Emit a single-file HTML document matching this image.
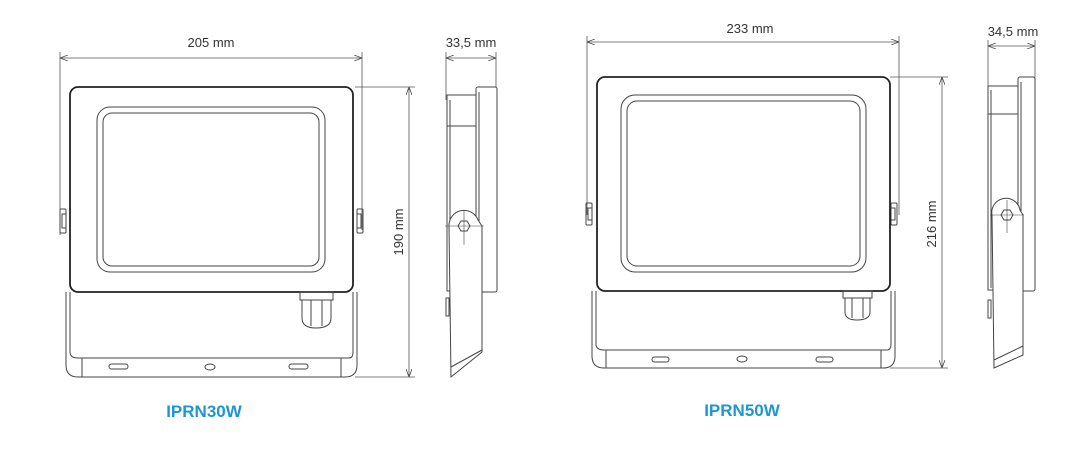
<!DOCTYPE html>
<html><head><meta charset="utf-8"><style>
html,body{margin:0;padding:0;background:#fff;}
svg{display:block}
text{font-family:"Liberation Sans",sans-serif;fill:#333}
</style></head><body>
<svg width="1070" height="453" viewBox="0 0 1070 453" xmlns="http://www.w3.org/2000/svg">
<defs>
<marker id="a" markerWidth="8" markerHeight="6" refX="8" refY="3" orient="auto-start-reverse" markerUnits="userSpaceOnUse"><path d="M0,0 L8,3 L0,6" fill="none" stroke="#444" stroke-width="0.8"/></marker>
</defs>
<g fill="none" stroke="#555" stroke-width="0.8">
<!-- LEFT dims -->
<line x1="60" y1="52" x2="60" y2="235"/>
<line x1="362" y1="52" x2="362" y2="230"/>
<line x1="60" y1="58" x2="362" y2="58" marker-start="url(#a)" marker-end="url(#a)"/>
<line x1="355" y1="87" x2="415" y2="87"/>
<line x1="355" y1="377" x2="415" y2="377"/>
<line x1="409" y1="87" x2="409" y2="377" marker-start="url(#a)" marker-end="url(#a)"/>
<line x1="446" y1="52" x2="446" y2="100"/>
<line x1="496" y1="52" x2="496" y2="90"/>
<line x1="446" y1="58" x2="496" y2="58" marker-start="url(#a)" marker-end="url(#a)"/>
<!-- RIGHT dims -->
<line x1="587" y1="36" x2="587" y2="215"/>
<line x1="899" y1="36" x2="899" y2="215"/>
<line x1="587" y1="42" x2="899" y2="42" marker-start="url(#a)" marker-end="url(#a)"/>
<line x1="890" y1="77" x2="948" y2="77"/>
<line x1="890" y1="368" x2="948" y2="368"/>
<line x1="942" y1="77" x2="942" y2="368" marker-start="url(#a)" marker-end="url(#a)"/>
<line x1="988" y1="40" x2="988" y2="90"/>
<line x1="1035" y1="40" x2="1035" y2="80"/>
<line x1="988" y1="46" x2="1035" y2="46" marker-start="url(#a)" marker-end="url(#a)"/>
</g>
<text x="211" y="47" font-size="13" text-anchor="middle">205 mm</text>
<text x="471" y="47" font-size="13" text-anchor="middle">33,5 mm</text>
<text x="403" y="232" font-size="13" text-anchor="middle" transform="rotate(-90 403 232)">190 mm</text>
<text x="750" y="33" font-size="13" text-anchor="middle">233 mm</text>
<text x="1013" y="36" font-size="13" text-anchor="middle">34,5 mm</text>
<text x="936" y="224" font-size="13" text-anchor="middle" transform="rotate(-90 936 224)">216 mm</text>

<!-- LEFT front -->
<g fill="none" stroke="#444" stroke-width="1">
<path d="M66,292 V365 Q66,377 78,377 H345 Q357,377 357,365 V292"/>
<path d="M70,292 V352 Q70,358 78,358 H349 Q353,358 353,352 V292"/>
<line x1="82" y1="358" x2="82" y2="377"/><line x1="341" y1="358" x2="341" y2="377"/>
<rect x="60" y="209" width="6" height="24" rx="1"/><rect x="62" y="214" width="4" height="14"/>
<rect x="357" y="209" width="6" height="24" rx="1"/><rect x="357" y="214" width="4" height="14"/>
<rect x="70" y="87" width="283" height="205" rx="8" fill="#fff" stroke="#222" stroke-width="1.8"/>
<rect x="97" y="107" width="228" height="165" rx="13"/>
<rect x="103" y="113" width="216" height="153" rx="9"/>
<rect x="300" y="292" width="33" height="8"/>
<path d="M302,300 H331 V318 Q331,328 316,328 Q302,328 302,318 Z"/>
<line x1="311" y1="300" x2="311" y2="326"/><line x1="322" y1="300" x2="322" y2="326"/>
<rect x="109" y="364" width="19" height="5" rx="2.5"/>
<ellipse cx="210" cy="367" rx="5" ry="3"/>
<rect x="289" y="364" width="19" height="5" rx="2.5"/>
</g>
<!-- LEFT side -->
<g fill="none" stroke="#444" stroke-width="1">
<rect x="447" y="95" width="32" height="196"/>
<line x1="447" y1="126" x2="477" y2="126"/>
<line x1="450" y1="100" x2="450" y2="290"/>
<rect x="476" y="87" width="21" height="205" rx="2" fill="#fff"/>
<line x1="479" y1="92" x2="479" y2="287"/>
<path d="M449,226 A15,15 0 0 1 478,220 L482,226 V352 L451,377 Z" fill="#fff"/>
<line x1="451" y1="367" x2="482" y2="350"/>
<polygon points="458,226 461,221 467,221 470,226 467,231 461,231"/>
<line x1="445" y1="226" x2="484" y2="226" stroke-width="0.6"/>
<line x1="464" y1="210" x2="464" y2="245" stroke-width="0.6"/>
<rect x="446" y="298" width="3" height="18"/>
</g>

<!-- RIGHT front -->
<g fill="none" stroke="#444" stroke-width="1">
<path d="M592,291 V356 Q592,368 604,368 H883 Q895,368 895,356 V291"/>
<path d="M596,291 V344 Q596,350 604,350 H887 Q891,350 891,344 V291"/>
<line x1="606" y1="350" x2="606" y2="368"/><line x1="881" y1="350" x2="881" y2="368"/>
<rect x="586" y="203" width="6" height="22" rx="1"/><rect x="588" y="208" width="4" height="12"/>
<rect x="891" y="203" width="6" height="22" rx="1"/><rect x="891" y="208" width="4" height="12"/>
<rect x="597" y="77" width="293" height="214" rx="8" fill="#fff" stroke="#222" stroke-width="1.8"/>
<rect x="621" y="95" width="245" height="177" rx="14"/>
<rect x="627" y="101" width="233" height="165" rx="10"/>
<rect x="843" y="291" width="29" height="7"/>
<path d="M845,298 H870 V312 Q870,320 857,320 Q845,320 845,312 Z"/>
<line x1="852" y1="298" x2="852" y2="318"/><line x1="863" y1="298" x2="863" y2="318"/>
<rect x="652" y="357" width="17" height="5" rx="2.5"/>
<ellipse cx="742" cy="359" rx="5" ry="3"/>
<rect x="816" y="357" width="17" height="5" rx="2.5"/>
</g>
<!-- RIGHT side -->
<g fill="none" stroke="#444" stroke-width="1">
<rect x="988" y="86" width="32" height="204"/>
<line x1="988" y1="114" x2="1018" y2="114"/>
<line x1="991" y1="90" x2="991" y2="288"/>
<rect x="1018" y="77" width="17" height="214" rx="2" fill="#fff"/>
<line x1="1021" y1="82" x2="1021" y2="286"/>
<path d="M992,215 A14,14 0 0 1 1020,210 L1023,215 V355 L994,368 Z" fill="#fff"/>
<line x1="994" y1="360" x2="1023" y2="346"/>
<polygon points="1001,215 1004,210 1010,210 1013,215 1010,220 1004,220"/>
<line x1="990" y1="215" x2="1024" y2="215" stroke-width="0.6"/>
<line x1="1007" y1="200" x2="1007" y2="233" stroke-width="0.6"/>
<rect x="988" y="300" width="3" height="18"/>
</g>

<text x="204" y="417" font-size="17" font-weight="bold" text-anchor="middle" style="fill:#1e96d2">IPRN30W</text>
<text x="742" y="416" font-size="17" font-weight="bold" text-anchor="middle" style="fill:#1e96d2">IPRN50W</text>
</svg>
</body></html>
